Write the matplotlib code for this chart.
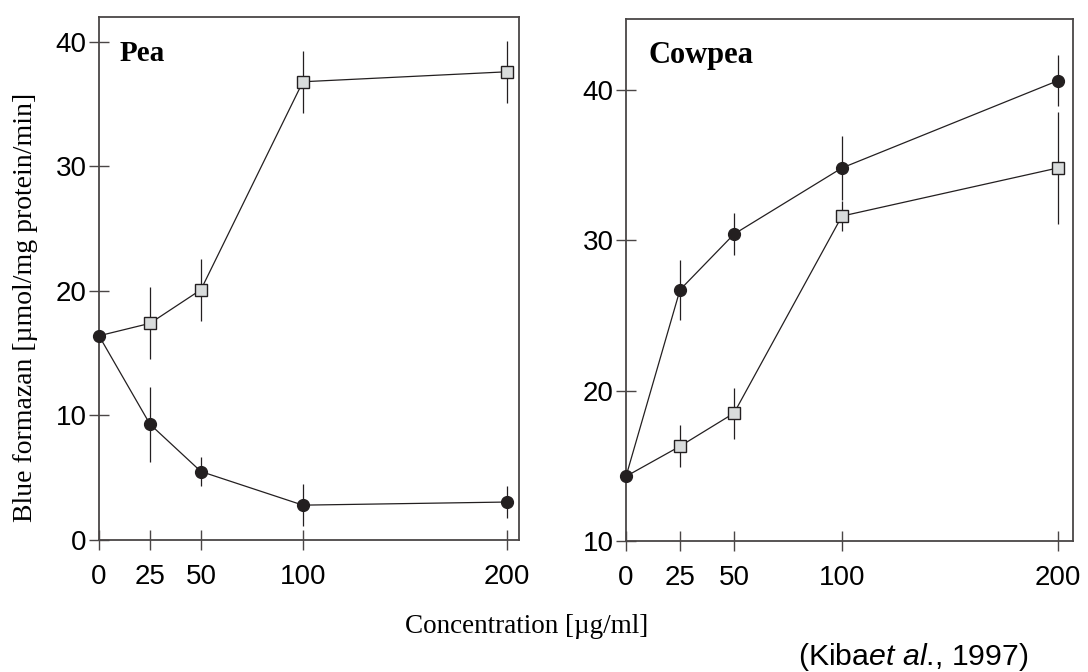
import matplotlib.pyplot as plt

plt.rcParams['mathtext.fontset'] = 'custom'
plt.rcParams['mathtext.rm'] = 'Liberation Sans'
plt.rcParams['mathtext.it'] = 'Liberation Sans:italic'

# concentrations [ug/ml]
conc = [0, 25, 50, 100, 200]

# Pea
pea_sq = [16.4, 17.4, 20.1, 36.8, 37.6]
pea_sq_err = [0, 2.9, 2.5, 2.5, 2.5]
pea_ci = [16.4, 9.3, 5.5, 2.8, 3.05]
pea_ci_err = [0, 3.0, 1.2, 1.7, 1.3]

# Cowpea
cow_sq = [14.3, 16.3, 18.5, 31.6, 34.8]
cow_sq_err = [0, 1.4, 1.7, 1.0, 3.7]
cow_ci = [14.3, 26.7, 30.4, 34.8, 40.6]
cow_ci_err = [0, 2.0, 1.4, 2.1, 1.7]

dark = '#231f20'
spine_col = '#4a4646'
sq_face = '#d9dcdc'

fig = plt.figure(figsize=(10.88, 6.72), dpi=100)
ax1 = fig.add_axes([0.0910, 0.1964, 0.386, 0.7783])
ax2 = fig.add_axes([0.5754, 0.1949, 0.4108, 0.7768])


def draw(ax, sq, sq_err, ci, ci_err):
    # squares first (the first point is shared with circles, circle on top)
    ax.errorbar(conc[1:], sq[1:], yerr=sq_err[1:], fmt='none', ecolor=dark,
                elinewidth=0.9, capsize=0, zorder=2, clip_on=False)
    ax.errorbar(conc[1:], ci[1:], yerr=ci_err[1:], fmt='none', ecolor=dark,
                elinewidth=0.9, capsize=0, zorder=2, clip_on=False)
    ax.plot(conc, sq, color=dark, lw=0.9, zorder=3, clip_on=False)
    ax.plot(conc[1:], sq[1:], ls='none', marker='s', ms=8, mfc=sq_face,
            mec=dark, mew=1.0, zorder=4, clip_on=False)
    ax.plot(conc, ci, color=dark, lw=0.9, marker='o', ms=8.5, mfc=dark,
            mec=dark, zorder=5, clip_on=False)

    ax.set_xticks(conc)
    ax.tick_params(direction='inout', length=14, width=1.0, color=spine_col,
                   labelsize=20, labelcolor='black')
    ax.tick_params(axis='x', pad=10)
    ax.tick_params(axis='y', pad=2)
    for s in ax.spines.values():
        s.set_color(spine_col)
        s.set_linewidth(1.3)
    for lab in ax.get_xticklabels() + ax.get_yticklabels():
        lab.set_fontfamily('Liberation Sans')


draw(ax1, pea_sq, pea_sq_err, pea_ci, pea_ci_err)
ax1.set_xlim(0, 206)
ax1.set_ylim(0, 42)
ax1.set_yticks([0, 10, 20, 30, 40])
ax1.text(0.05, 0.93, 'Pea', transform=ax1.transAxes, fontsize=21,
         fontweight='bold', family='Liberation Serif', va='center', ha='left')

draw(ax2, cow_sq, cow_sq_err, cow_ci, cow_ci_err)
ax2.set_xlim(0, 207)
ax2.set_ylim(10, 44.7)
ax2.set_yticks([10, 20, 30, 40])
ax2.text(0.05, 0.93, 'Cowpea', transform=ax2.transAxes, fontsize=22,
         fontweight='bold', family='Liberation Serif', va='center', ha='left')

fig.text(0.023, 0.543, 'Blue formazan [µmol/mg protein/min]', rotation=90,
         family='Liberation Serif', fontsize=20, ha='center', va='center')
fig.text(0.4836, 0.067, 'Concentration [µg/ml]', family='Liberation Serif',
         fontsize=19.5, ha='center', va='center')
fig.text(0.945, 0.011, '(Kiba$\\it{et\\ al}$., 1997)', family='Liberation Sans',
         fontsize=21.8, ha='right', va='baseline')

fig.savefig('out.png', dpi=100)
